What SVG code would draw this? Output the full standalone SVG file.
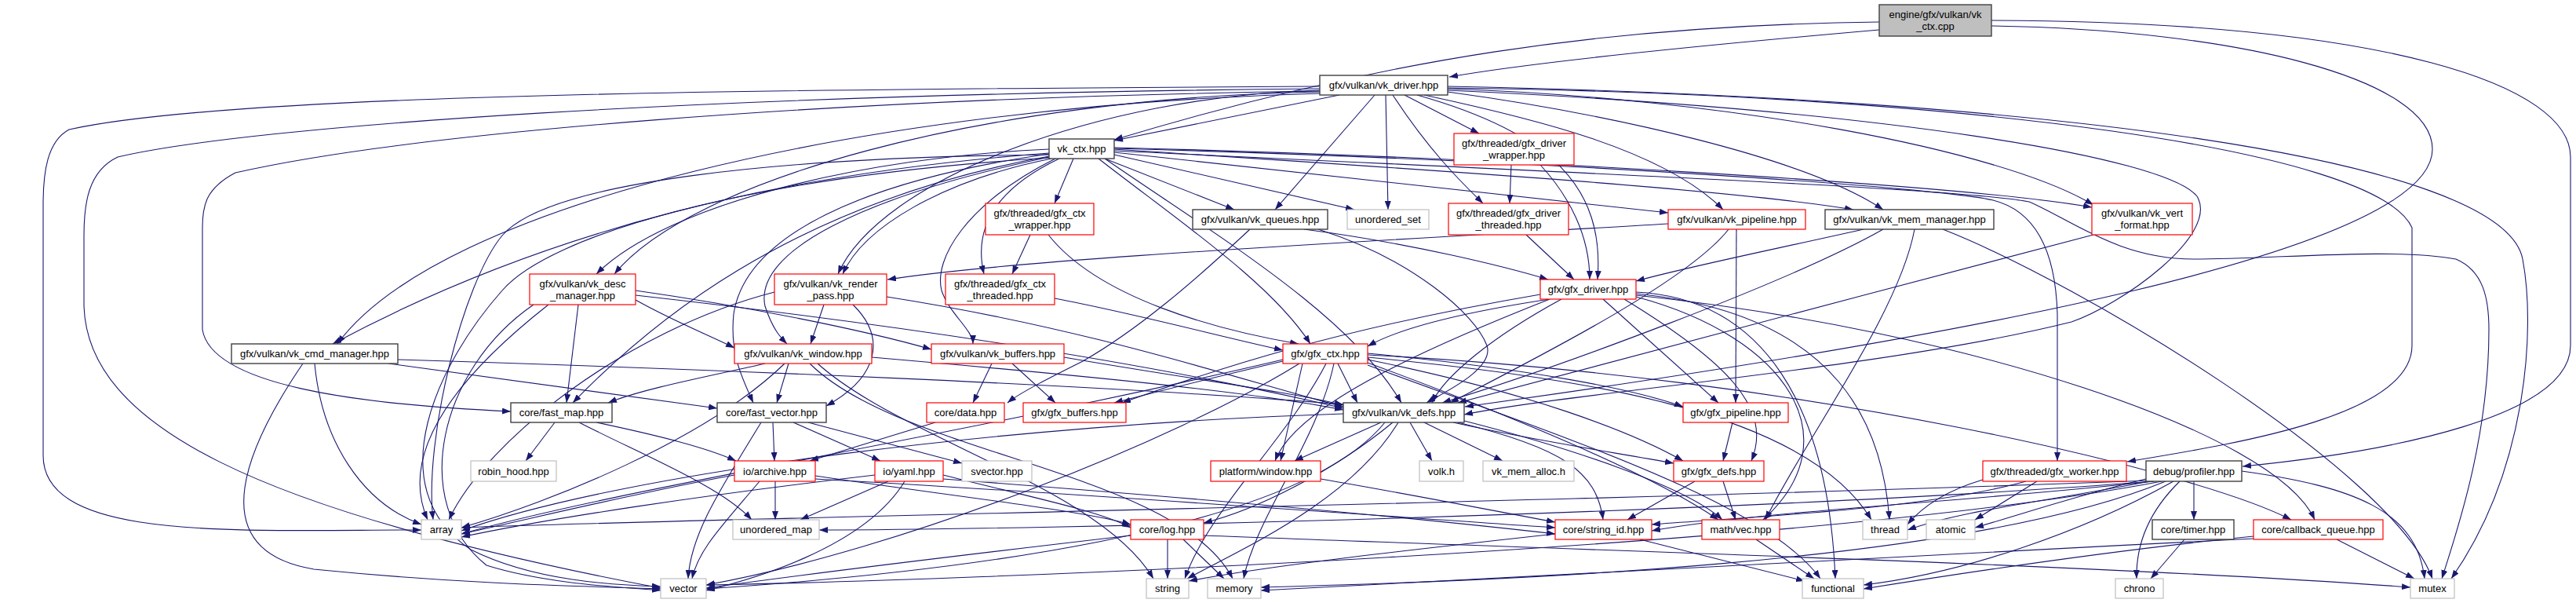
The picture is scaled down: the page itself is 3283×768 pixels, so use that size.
<svg xmlns="http://www.w3.org/2000/svg" width="3283" height="768" viewBox="0 0 3283 768">
<defs>
<marker id="a" markerUnits="userSpaceOnUse" markerWidth="11" markerHeight="8" refX="11" refY="4" orient="auto"><path d="M0,0 L11,4 L0,8 z" fill="#191970"/></marker>
<style>
.e path{fill:none;stroke:#191970;stroke-width:1.1;marker-end:url(#a)}
.nb rect{fill:#fff;stroke:#404040;stroke-width:1.4}
.nr rect{fill:#fff;stroke:#ff0000;stroke-width:1.2}
.ng rect{fill:#fff;stroke:#bfbfbf;stroke-width:1.2}
.rt rect{fill:#bfbfbf;stroke:#404040;stroke-width:1.4}
text{font-family:"Liberation Sans",Arial,sans-serif;font-size:13px;text-anchor:middle;fill:#000}
</style>
</defs>
<rect width="3283" height="768" fill="#fff"/>
<g id="connectors" class="e">
<path d="M2395,38 C2200,55 1960,78 1847,98"/>
<path d="M2395,28 C2050,32 1760,75 1420,178"/>
<path d="M2538,33 C2850,38 3100,100 3100,190 C3100,320 2500,430 1867,518"/>
<path d="M2538,26 C3050,28 3276,110 3276,200 L3276,440 C3276,530 3050,575 2858,594"/>
<path d="M1845,112 C2500,120 3030,190 3074,290 L3074,440 C3074,530 2850,565 2711,588"/>
<path d="M1707,121 L1420,179"/>
<path d="M1682,117 C1250,125 880,230 783,349"/>
<path d="M1752,121 L1625,267"/>
<path d="M1766,121 L1769,267"/>
<path d="M1790,121 L1885,170"/>
<path d="M1775,121 C1820,190 1860,230 1890,259"/>
<path d="M1815,121 C1950,150 2120,190 2196,267"/>
<path d="M1845,117 C2050,145 2300,200 2400,267"/>
<path d="M1845,113 C2200,125 2550,190 2668,261"/>
<path d="M1806,121 C1980,170 2045,240 2036,356"/>
<path d="M1682,115 C1400,122 1120,230 1068,349"/>
<path d="M1682,110 C1000,114 300,118 88,165 C60,180 55,220 55,260 L55,580 C55,690 300,675 537,675"/>
<path d="M1682,113 C900,120 320,160 150,200 C112,218 107,260 107,300 L107,390 C112,540 320,650 842,749"/>
<path d="M1682,116 C1050,125 520,170 300,220 C262,240 258,262 258,290 L258,420 C270,490 450,515 651,524"/>
<path d="M1682,119 C1100,135 560,260 430,438"/>
<path d="M1845,115 C2400,140 2760,200 2800,250 C2830,300 2700,390 2640,410 C2400,470 2000,500 1866,528"/>
<path d="M1845,110 C2600,125 3190,200 3215,330 C3232,420 3220,600 3124,737"/>
<path d="M1337,190 C1100,200 850,260 760,349"/>
<path d="M1368,202 L1344,259"/>
<path d="M1408,202 L1573,267"/>
<path d="M1420,197 L1726,267"/>
<path d="M1420,194 L2126,271"/>
<path d="M1420,190 C1800,215 2200,240 2362,267"/>
<path d="M1420,188 C1900,200 2500,235 2666,264"/>
<path d="M1340,202 C1200,230 1100,290 1074,349"/>
<path d="M1350,202 C1270,240 1240,290 1254,349"/>
<path d="M1337,200 C1100,250 960,320 975,390 C985,420 995,430 1003,438"/>
<path d="M1345,202 C1230,260 1190,330 1200,370 C1210,400 1240,420 1240,438"/>
<path d="M1337,195 C1000,220 700,290 424,438"/>
<path d="M1400,202 C1500,280 1620,360 1670,438"/>
<path d="M1408,202 C1550,300 1720,400 1786,513"/>
<path d="M1337,199 C1000,260 820,420 730,513"/>
<path d="M1337,196 C1100,230 950,300 935,400 C930,450 945,480 960,513"/>
<path d="M1337,197 C1000,200 700,230 640,300 C590,360 540,560 552,662"/>
<path d="M1337,201 C950,225 700,300 640,370 C560,460 480,620 600,700 C680,740 780,745 842,747"/>
<path d="M1420,192 C2000,220 2500,240 2586,257 C2640,280 2700,330 2796,330 C2900,330 3050,315 3130,330 C3165,345 3172,380 3172,420 C3172,560 3130,680 3112,737"/>
<path d="M1420,189 C2000,205 2480,240 2540,255 C2600,270 2620,330 2622,400 L2622,587"/>
<path d="M1926,210 L1924,259"/>
<path d="M1963,210 C2000,250 2026,300 2026,356"/>
<path d="M1945,299 L2006,356"/>
<path d="M1313,299 L1290,349"/>
<path d="M1336,299 C1400,380 1550,420 1655,438"/>
<path d="M1344,380 C1450,400 1560,430 1635,446"/>
<path d="M1662,292 C1800,310 1920,340 1973,356"/>
<path d="M1680,292 C1800,330 1880,400 1895,440 C1905,470 1840,500 1818,513"/>
<path d="M1593,292 C1520,360 1450,420 1380,460 C1340,480 1300,500 1284,513"/>
<path d="M2126,285 C1700,310 1300,330 1131,356"/>
<path d="M2203,292 C2150,360 1950,460 1848,513"/>
<path d="M2213,292 L2212,513"/>
<path d="M2375,292 C2250,320 2150,340 2085,358"/>
<path d="M2400,292 C2280,360 1980,470 1838,513"/>
<path d="M2440,292 C2420,400 2300,560 2250,662"/>
<path d="M2476,292 C2650,360 3050,600 3100,737"/>
<path d="M2668,299 C2400,370 2050,460 1858,513"/>
<path d="M737,388 L722,513"/>
<path d="M699,388 C620,450 500,560 545,662"/>
<path d="M680,388 C560,470 520,640 620,720 C700,745 800,748 842,752"/>
<path d="M810,376 C1200,420 1500,470 1712,520"/>
<path d="M810,370 C950,390 1100,420 1187,445"/>
<path d="M810,382 C860,410 900,425 936,443"/>
<path d="M1050,388 L1033,438"/>
<path d="M1087,388 C1130,430 1120,480 1053,517"/>
<path d="M1130,378 C1400,420 1600,490 1712,518"/>
<path d="M987,372 C800,420 620,560 572,662"/>
<path d="M495,463 C700,490 850,510 914,520"/>
<path d="M507,458 C900,470 1400,490 1712,515"/>
<path d="M401,463 C410,560 460,640 537,668"/>
<path d="M386,463 C320,560 250,700 400,725 C600,745 760,747 842,750"/>
<path d="M1005,463 L990,513"/>
<path d="M975,463 C900,480 820,495 775,513"/>
<path d="M1000,463 C900,560 700,640 588,672"/>
<path d="M1042,463 C1150,560 1400,620 1470,737"/>
<path d="M1032,463 C1150,580 1500,600 1571,737"/>
<path d="M1111,455 C1400,480 1600,500 1712,522"/>
<path d="M1264,463 L1240,513"/>
<path d="M1290,463 L1345,513"/>
<path d="M1356,455 C1500,480 1650,500 1712,516"/>
<path d="M1975,381 C1850,400 1780,420 1743,441"/>
<path d="M1990,381 C1900,430 1840,480 1825,513"/>
<path d="M2043,381 L2190,513"/>
<path d="M2070,381 C2200,460 2260,520 2232,587"/>
<path d="M2085,378 C2280,430 2360,560 2247,662"/>
<path d="M2085,374 C2350,400 2400,550 2408,662"/>
<path d="M2085,372 C2250,380 2330,520 2339,737"/>
<path d="M2085,376 C2500,420 2900,550 2950,662"/>
<path d="M1963,375 C1700,420 1550,470 1430,513"/>
<path d="M1975,381 C1800,450 1650,520 1625,587"/>
<path d="M1705,463 L1730,513"/>
<path d="M1635,460 C1550,480 1470,500 1420,513"/>
<path d="M1660,463 L1632,587"/>
<path d="M1743,458 C1950,500 2080,550 2145,587"/>
<path d="M1743,450 C1950,470 2080,495 2145,518"/>
<path d="M1743,462 C1900,520 2100,600 2190,662"/>
<path d="M1743,455 C2000,480 2300,520 2385,662"/>
<path d="M1690,463 C1640,560 1540,650 1510,737"/>
<path d="M1700,463 C1680,560 1600,660 1585,737"/>
<path d="M1656,463 C1500,560 1150,700 900,745"/>
<path d="M1743,452 C2300,480 2800,600 2920,662"/>
<path d="M1743,465 C2000,560 2250,640 2320,737"/>
<path d="M1635,458 C1200,560 800,620 588,680"/>
<path d="M707,538 L670,587"/>
<path d="M760,538 C840,555 900,570 938,587"/>
<path d="M738,538 C820,580 920,620 958,662"/>
<path d="M985,538 L987,587"/>
<path d="M1011,538 L1122,587"/>
<path d="M1030,538 L1226,590"/>
<path d="M970,538 C920,620 880,680 877,737"/>
<path d="M1192,538 L1032,587"/>
<path d="M1760,538 L1650,587"/>
<path d="M1797,538 L1825,587"/>
<path d="M1815,538 L1915,587"/>
<path d="M1852,538 C1950,560 2050,575 2133,590"/>
<path d="M1858,538 C1990,570 2035,600 2043,662"/>
<path d="M1866,536 C2000,570 2150,620 2195,662"/>
<path d="M1775,538 C1700,600 1600,650 1534,666"/>
<path d="M1782,538 C1720,640 1580,700 1513,737"/>
<path d="M1765,538 C1650,680 1200,730 900,750"/>
<path d="M1712,527 C1300,540 800,600 588,676"/>
<path d="M2208,538 L2196,587"/>
<path d="M936,605 C800,630 680,660 588,680"/>
<path d="M988,613 L988,662"/>
<path d="M968,613 C920,670 890,700 882,737"/>
<path d="M1039,606 C1200,630 1380,650 1441,668"/>
<path d="M1039,610 C1400,630 1800,660 1982,672"/>
<path d="M1115,605 C900,630 700,660 588,684"/>
<path d="M1132,613 L1020,662"/>
<path d="M1153,613 C1100,700 950,740 900,752"/>
<path d="M1202,605 C1300,630 1400,650 1441,672"/>
<path d="M1202,610 C1600,640 1850,665 1982,680"/>
<path d="M1683,610 C1800,630 1900,650 1982,665"/>
<path d="M2160,613 L2074,662"/>
<path d="M2196,613 L2212,662"/>
<path d="M1488,687 L1488,737"/>
<path d="M1508,687 L1560,737"/>
<path d="M1441,682 C1200,710 1000,735 900,749"/>
<path d="M1534,682 C2000,700 2700,720 3072,748"/>
<path d="M1982,680 C1800,700 1620,720 1515,740"/>
<path d="M2090,687 L2300,740"/>
<path d="M2238,687 L2312,737"/>
<path d="M2527,611 C2480,625 2450,645 2431,668"/>
<path d="M2596,613 L2517,662"/>
<path d="M2582,613 C2450,650 2200,660 2105,668"/>
<path d="M2796,613 L2796,662"/>
<path d="M2778,613 C2740,650 2722,690 2723,737"/>
<path d="M2857,600 C3000,620 3080,650 3090,737"/>
<path d="M2735,610 C2650,630 2560,660 2517,672"/>
<path d="M2740,613 C2600,640 2500,650 2431,675"/>
<path d="M2745,613 C2500,640 2250,650 2105,676"/>
<path d="M2740,612 C2000,640 900,660 588,672"/>
<path d="M2745,613 C2200,655 1300,675 1044,675"/>
<path d="M2755,613 C2300,700 1200,740 900,745"/>
<path d="M2760,613 C2500,720 1900,740 1607,748"/>
<path d="M2770,613 C2650,680 2500,730 2375,745"/>
<path d="M2784,687 L2741,737"/>
<path d="M2978,687 L3077,737"/>
<path d="M2872,683 C2700,700 2500,730 2375,750"/>
<path d="M2872,686 C2400,710 1900,735 1607,752"/>
</g>
<g id="n_cpp" class="rt"><rect x="2395" y="6" width="143" height="40"/><text x="2466.5" y="23">engine/gfx/vulkan/vk</text><text x="2466.5" y="38">_ctx.cpp</text></g>
<g id="n_driver" class="nb"><rect x="1682" y="96" width="163" height="25"/><text x="1763.5" y="113">gfx/vulkan/vk_driver.hpp</text></g>
<g id="n_ctx" class="nb"><rect x="1337" y="177" width="83" height="25"/><text x="1378.5" y="194">vk_ctx.hpp</text></g>
<g id="n_drvwrap" class="nr"><rect x="1853" y="170" width="153" height="40"/><text x="1929.5" y="187">gfx/threaded/gfx_driver</text><text x="1929.5" y="202">_wrapper.hpp</text></g>
<g id="n_ctxwrap" class="nr"><rect x="1256" y="259" width="138" height="40"/><text x="1325" y="276">gfx/threaded/gfx_ctx</text><text x="1325" y="291">_wrapper.hpp</text></g>
<g id="n_queues" class="nb"><rect x="1520" y="267" width="172" height="25"/><text x="1606" y="284">gfx/vulkan/vk_queues.hpp</text></g>
<g id="n_uset" class="ng"><rect x="1717" y="267" width="104" height="25"/><text x="1769" y="284">unordered_set</text></g>
<g id="n_drvthr" class="nr"><rect x="1846" y="259" width="153" height="40"/><text x="1922.5" y="276">gfx/threaded/gfx_driver</text><text x="1922.5" y="291">_threaded.hpp</text></g>
<g id="n_pipe" class="nr"><rect x="2126" y="267" width="175" height="25"/><text x="2213.5" y="284">gfx/vulkan/vk_pipeline.hpp</text></g>
<g id="n_mem" class="nb"><rect x="2326" y="267" width="215" height="25"/><text x="2433.5" y="284">gfx/vulkan/vk_mem_manager.hpp</text></g>
<g id="n_vert" class="nr"><rect x="2666" y="259" width="128" height="40"/><text x="2730" y="276">gfx/vulkan/vk_vert</text><text x="2730" y="291">_format.hpp</text></g>
<g id="n_desc" class="nr"><rect x="675" y="349" width="135" height="39"/><text x="742.5" y="366">gfx/vulkan/vk_desc</text><text x="742.5" y="381">_manager.hpp</text></g>
<g id="n_rpass" class="nr"><rect x="987" y="349" width="143" height="39"/><text x="1058.5" y="366">gfx/vulkan/vk_render</text><text x="1058.5" y="381">_pass.hpp</text></g>
<g id="n_ctxthr" class="nr"><rect x="1205" y="349" width="139" height="39"/><text x="1274.5" y="366">gfx/threaded/gfx_ctx</text><text x="1274.5" y="381">_threaded.hpp</text></g>
<g id="n_gdrv" class="nr"><rect x="1963" y="356" width="122" height="25"/><text x="2024" y="373">gfx/gfx_driver.hpp</text></g>
<g id="n_cmd" class="nb"><rect x="295" y="438" width="212" height="25"/><text x="401" y="455">gfx/vulkan/vk_cmd_manager.hpp</text></g>
<g id="n_win" class="nr"><rect x="936" y="438" width="175" height="25"/><text x="1023.5" y="455">gfx/vulkan/vk_window.hpp</text></g>
<g id="n_buf" class="nr"><rect x="1187" y="438" width="169" height="25"/><text x="1271.5" y="455">gfx/vulkan/vk_buffers.hpp</text></g>
<g id="n_gctx" class="nr"><rect x="1635" y="438" width="108" height="25"/><text x="1689" y="455">gfx/gfx_ctx.hpp</text></g>
<g id="n_fmap" class="nb"><rect x="651" y="513" width="129" height="25"/><text x="715.5" y="530">core/fast_map.hpp</text></g>
<g id="n_fvec" class="nb"><rect x="914" y="513" width="139" height="25"/><text x="983.5" y="530">core/fast_vector.hpp</text></g>
<g id="n_data" class="nr"><rect x="1181" y="513" width="99" height="25"/><text x="1230.5" y="530">core/data.hpp</text></g>
<g id="n_gbuf" class="nr"><rect x="1304" y="513" width="131" height="25"/><text x="1369.5" y="530">gfx/gfx_buffers.hpp</text></g>
<g id="n_defs" class="nb"><rect x="1712" y="513" width="154" height="25"/><text x="1789" y="530">gfx/vulkan/vk_defs.hpp</text></g>
<g id="n_gpipe" class="nr"><rect x="2145" y="513" width="134" height="25"/><text x="2212" y="530">gfx/gfx_pipeline.hpp</text></g>
<g id="n_robin" class="ng"><rect x="600" y="587" width="109" height="26"/><text x="654.5" y="604.5">robin_hood.hpp</text></g>
<g id="n_arch" class="nr"><rect x="936" y="587" width="103" height="26"/><text x="987.5" y="604.5">io/archive.hpp</text></g>
<g id="n_yaml" class="nr"><rect x="1115" y="587" width="87" height="26"/><text x="1158.5" y="604.5">io/yaml.hpp</text></g>
<g id="n_svec" class="ng"><rect x="1226" y="587" width="89" height="26"/><text x="1270.5" y="604.5">svector.hpp</text></g>
<g id="n_pwin" class="nr"><rect x="1543" y="587" width="140" height="26"/><text x="1613" y="604.5">platform/window.hpp</text></g>
<g id="n_volk" class="ng"><rect x="1809" y="587" width="56" height="26"/><text x="1837" y="604.5">volk.h</text></g>
<g id="n_vma" class="ng"><rect x="1890" y="587" width="116" height="26"/><text x="1948" y="604.5">vk_mem_alloc.h</text></g>
<g id="n_gdefs" class="nr"><rect x="2133" y="587" width="115" height="26"/><text x="2190.5" y="604.5">gfx/gfx_defs.hpp</text></g>
<g id="n_worker" class="nr"><rect x="2527" y="587" width="183" height="26"/><text x="2618.5" y="604.5">gfx/threaded/gfx_worker.hpp</text></g>
<g id="n_prof" class="nb"><rect x="2735" y="587" width="122" height="26"/><text x="2796" y="604.5">debug/profiler.hpp</text></g>
<g id="n_array" class="ng"><rect x="537" y="662" width="51" height="25"/><text x="562.5" y="679">array</text></g>
<g id="n_umap" class="ng"><rect x="934" y="662" width="110" height="25"/><text x="989" y="679">unordered_map</text></g>
<g id="n_log" class="nr"><rect x="1441" y="662" width="93" height="25"/><text x="1487.5" y="679">core/log.hpp</text></g>
<g id="n_sid" class="nr"><rect x="1982" y="662" width="123" height="25"/><text x="2043.5" y="679">core/string_id.hpp</text></g>
<g id="n_vec" class="nr"><rect x="2169" y="662" width="99" height="25"/><text x="2218.5" y="679">math/vec.hpp</text></g>
<g id="n_thread" class="ng"><rect x="2374" y="662" width="57" height="25"/><text x="2402.5" y="679">thread</text></g>
<g id="n_atomic" class="ng"><rect x="2455" y="662" width="62" height="25"/><text x="2486" y="679">atomic</text></g>
<g id="n_timer" class="nb"><rect x="2743" y="662" width="104" height="25"/><text x="2795" y="679">core/timer.hpp</text></g>
<g id="n_cbq" class="nr"><rect x="2872" y="662" width="165" height="25"/><text x="2954.5" y="679">core/callback_queue.hpp</text></g>
<g id="n_vector" class="ng"><rect x="842" y="737" width="58" height="25"/><text x="871" y="754">vector</text></g>
<g id="n_string" class="ng"><rect x="1461" y="737" width="54" height="25"/><text x="1488" y="754">string</text></g>
<g id="n_memory" class="ng"><rect x="1539" y="737" width="68" height="25"/><text x="1573" y="754">memory</text></g>
<g id="n_functional" class="ng"><rect x="2297" y="737" width="78" height="25"/><text x="2336" y="754">functional</text></g>
<g id="n_chrono" class="ng"><rect x="2696" y="737" width="61" height="25"/><text x="2726.5" y="754">chrono</text></g>
<g id="n_mutex" class="ng"><rect x="3072" y="737" width="56" height="25"/><text x="3100" y="754">mutex</text></g>
</svg>
